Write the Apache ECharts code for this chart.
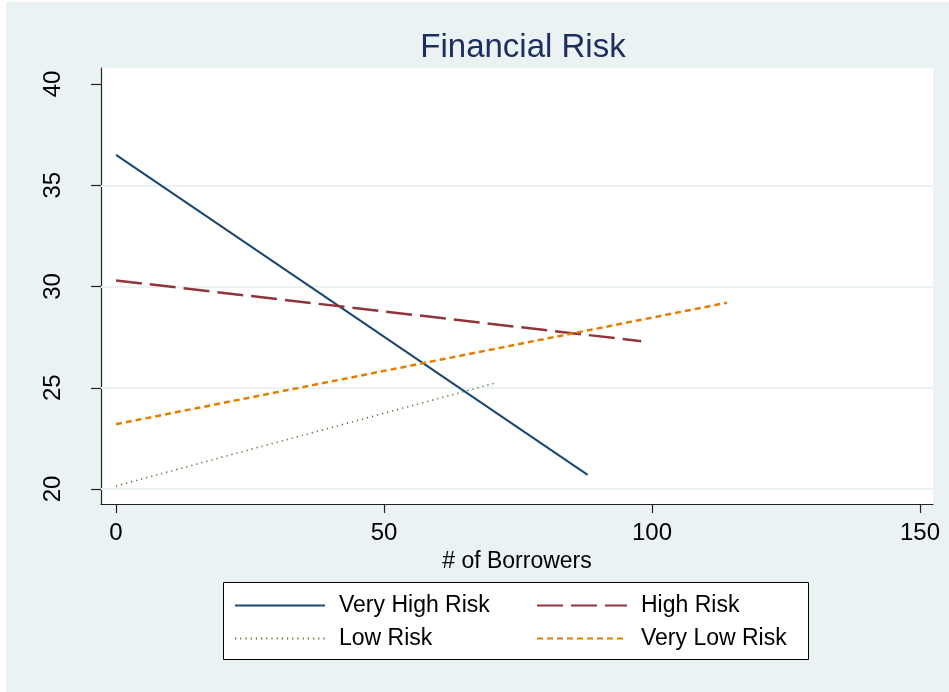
<!DOCTYPE html>
<html>
<head>
<meta charset="utf-8">
<script src="https://cdn.jsdelivr.net/npm/echarts@6/dist/echarts.min.js"></script>
<style>html,body{margin:0;padding:0;background:#fff}#c{width:949px;height:692px}</style>
</head>
<body>
<div id="c"></div>
<script>
// Data (linear fit lines: start and end points)
const seriesNames = ['Very High Risk', 'High Risk', 'Low Risk', 'Very Low Risk'];
const veryHighRisk = [[0, 36.5], [88, 20.7]];
const highRisk = [[0, 30.3], [98, 27.3]];
const lowRisk = [[0, 20.15], [71, 25.25]];
const veryLowRisk = [[0, 23.2], [114, 29.2]];
const xTicks = [0, 50, 100, 150];
const yTicks = [20, 25, 30, 35, 40];
const yGridLines = [20, 25, 30, 35];

const FONT = 'Liberation Sans, Arial, sans-serif';
const chart = echarts.init(document.getElementById('c'), null, {renderer: 'canvas'});

function mk(name, data, color, type, width, z) {
  return {
    name: name, type: 'line', data: data, symbol: 'none', z: z,
    lineStyle: {color: color, type: type, width: width, cap: 'butt'},
    itemStyle: {color: color},
    emphasis: {disabled: true},
    animation: false
  };
}

const series = [
  mk(seriesNames[0], veryHighRisk, '#1a476f', 'solid', 2, 5),
  mk(seriesNames[1], highRisk, '#90353b', [26, 8], 2.5, 5),
  mk(seriesNames[2], lowRisk, '#55752f', [1.2, 4], 1.6, 5),
  mk(seriesNames[3], veryLowRisk, '#e37e00', [6, 4], 2.5, 5)
];
series[0].markLine = {
  silent: true, symbol: 'none', z: 1, animation: false,
  label: {show: false},
  lineStyle: {color: '#eaf2f3', type: 'solid', width: 2},
  data: yGridLines.map(v => ({yAxis: v}))
};

const legendCommon = {
  orient: 'vertical', itemWidth: 90, itemHeight: 14, itemGap: 10, padding: 0,
  selectedMode: false,
  itemStyle: {opacity: 0},
  textStyle: {fontFamily: FONT, fontSize: 23, color: '#000', lineHeight: 23, padding: [0, 0, 0, 9]}
};

chart.setOption({
  animation: false,
  backgroundColor: '#ffffff',
  graphic: [
    {type: 'rect', z: -10, silent: true, shape: {x: 6, y: 2, width: 943, height: 690}, style: {fill: '#eaf2f3'}},
    {type: 'rect', z: -9, silent: true, shape: {x: 101, y: 68, width: 832, height: 436}, style: {fill: '#ffffff'}},
    {type: 'rect', z: -9, silent: true, shape: {x: 223.5, y: 582.5, width: 585, height: 77}, style: {fill: '#ffffff', stroke: '#000', lineWidth: 1}}
  ],
  title: {
    text: 'Financial Risk', left: 518, top: 26, textAlign: 'center',
    textStyle: {fontFamily: FONT, fontSize: 33, fontWeight: 'normal', color: '#1c2d5e'}
  },
  legend: [
    Object.assign({}, legendCommon, {data: [seriesNames[0], seriesNames[2]], left: 234, top: 594}),
    Object.assign({}, legendCommon, {data: [seriesNames[1], seriesNames[3]], left: 536, top: 594})
  ],
  grid: {left: 101, top: 68, right: 16, bottom: 188, containLabel: false},
  xAxis: {
    type: 'value', min: -2.8, max: 152.43,
    name: '# of Borrowers', nameLocation: 'middle', nameGap: 38,
    nameTextStyle: {fontFamily: FONT, fontSize: 23, color: '#000'},
    axisLine: {show: true, onZero: false, lineStyle: {color: '#222', width: 1.2}},
    axisTick: {show: true, length: 9, customValues: xTicks, lineStyle: {color: '#222', width: 1.2}},
    axisLabel: {customValues: xTicks, margin: 17, fontFamily: FONT, fontSize: 24, color: '#000'},
    splitLine: {show: false}
  },
  yAxis: {
    type: 'value', min: 19.26, max: 40.79,
    axisLine: {show: true, onZero: false, lineStyle: {color: '#222', width: 1.2}},
    axisTick: {show: true, length: 10, customValues: yTicks, lineStyle: {color: '#222', width: 1.2}},
    axisLabel: {customValues: yTicks, rotate: 90, margin: 36, fontFamily: FONT, fontSize: 24, color: '#000'},
    splitLine: {show: false}
  },
  series: series
});
</script>
</body>
</html>
